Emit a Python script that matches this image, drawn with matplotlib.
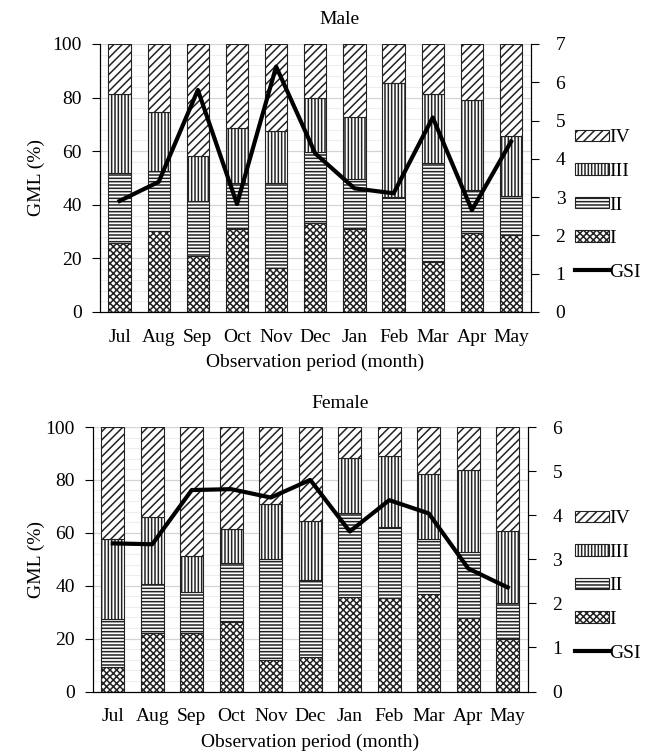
import matplotlib.pyplot as plt
from matplotlib.patches import Patch
from matplotlib.lines import Line2D
import numpy as np

plt.rcParams['font.family'] = ['Liberation Serif', 'DejaVu Serif']
plt.rcParams['font.size'] = 14
plt.rcParams['hatch.linewidth'] = 1.1

months = ["Jul", "Aug", "Sep", "Oct", "Nov", "Dec", "Jan", "Feb", "Mar", "Apr", "May"]
stages = ["I", "II", "III", "IV"]
hatches = ["xxxxx", "-----", "|||||", "////"]

# male GML stages (%), stacked, IV fills to 100
male_I = [25.9, 30.2, 20.9, 31.1, 16.4, 33.3, 31.0, 23.8, 18.5, 29.4, 28.7]
male_II = [25.8, 22.3, 20.5, 17.2, 31.9, 26.5, 18.7, 19.2, 37.0, 16.1, 14.6]
male_III = [29.5, 22.3, 16.9, 20.4, 19.4, 19.9, 23.2, 42.3, 25.7, 33.6, 22.4]
male_IV = [18.8, 25.2, 41.7, 31.3, 32.3, 20.3, 27.1, 14.7, 18.8, 20.9, 34.3]
male_gsi = [2.90, 3.40, 5.80, 2.82, 6.41, 4.14, 3.23, 3.10, 5.08, 2.66, 4.45]

# female
female_I = [9.4, 22.2, 22.0, 26.4, 11.9, 12.9, 35.6, 35.5, 36.7, 27.7, 19.8]
female_II = [17.9, 18.4, 15.7, 22.1, 38.1, 29.3, 32.0, 26.8, 20.8, 25.2, 13.5]
female_III = [30.4, 25.4, 13.6, 12.8, 20.8, 22.4, 20.8, 26.9, 24.6, 30.8, 27.5]
female_IV = [42.3, 34.0, 48.7, 38.7, 29.2, 35.4, 11.6, 10.8, 17.9, 16.3, 39.2]
female_gsi = [3.36, 3.34, 4.57, 4.59, 4.40, 4.80, 3.63, 4.34, 4.04, 2.79, 2.36]


def panel(rect, title, title_y, parts, gsi, gsi_max, leg_y, ylab_x):
    ax = fig.add_axes(rect)
    x = np.arange(len(months))
    bottom = np.zeros(len(months))
    for vals, h in zip(parts, hatches):
        ax.bar(x, vals, 0.57, bottom=bottom, color='white', edgecolor='#222222',
               linewidth=0.8, hatch=h, zorder=2)
        bottom += np.array(vals)
    ax.set_xlim(-0.5, len(months) - 0.5)
    ax.set_ylim(0, 100)
    ax.set_yticks(np.arange(0, 101, 20))
    ax.set_yticks(np.arange(0, 101, 4), minor=True)
    ax.grid(axis='y', which='major', color='#d4d4d4', lw=0.9, zorder=0)
    ax.grid(axis='y', which='minor', color='#eeeeee', lw=0.8, zorder=0)
    ax.set_xticks(x)
    ax.set_xticklabels(months)
    ax.tick_params(axis='x', length=0, pad=12)
    ax.tick_params(axis='y', which='major', direction='out', length=6, pad=7)
    ax.tick_params(axis='y', which='minor', length=0)
    ax.spines['top'].set_visible(False)
    ax.set_ylabel("GML (%)")
    ax.yaxis.set_label_coords(ylab_x, 0.5)
    ax.set_xlabel("Observation period (month)", labelpad=6)

    ax2 = ax.twinx()
    ax2.plot(x, gsi, color='black', lw=3, zorder=5)
    ax2.set_ylim(0, gsi_max)
    ax2.set_yticks(np.arange(0, gsi_max + 1, 1))
    ax2.tick_params(axis='y', direction='out', length=6, pad=12)
    ax2.spines['top'].set_visible(False)

    fig.text(0.517, title_y, title, ha='center', va='center')

    handles = [Patch(facecolor='white', edgecolor='#222222', hatch=hatches[i], lw=0.8)
               for i in [3, 2, 1, 0]]
    handles.append(Line2D([], [], color='black', lw=3))
    labels = ["IV", "III", "II", "I", "GSI"]
    fig.legend(handles, labels, loc='center left', bbox_to_anchor=(0.86, leg_y),
               frameon=False, borderpad=0, handlelength=1.75, handleheight=0.55,
               handletextpad=0.05, labelspacing=0.85)
    return ax


fig = plt.figure(figsize=(6.57, 7.51), dpi=100)

panel([100 / 657, 1 - 312 / 751, 430.6 / 657, 268 / 751], "Male", 1 - 20 / 751,
      [male_I, male_II, male_III, male_IV], male_gsi, 7, 1 - 205 / 751, -0.127)
panel([93 / 657, 1 - 691.5 / 751, 434.5 / 657, 264.5 / 751], "Female", 1 - 403 / 751,
      [female_I, female_II, female_III, female_IV], female_gsi, 6, 1 - 586 / 751, -0.111)

fig.savefig("out.png", dpi=100)
